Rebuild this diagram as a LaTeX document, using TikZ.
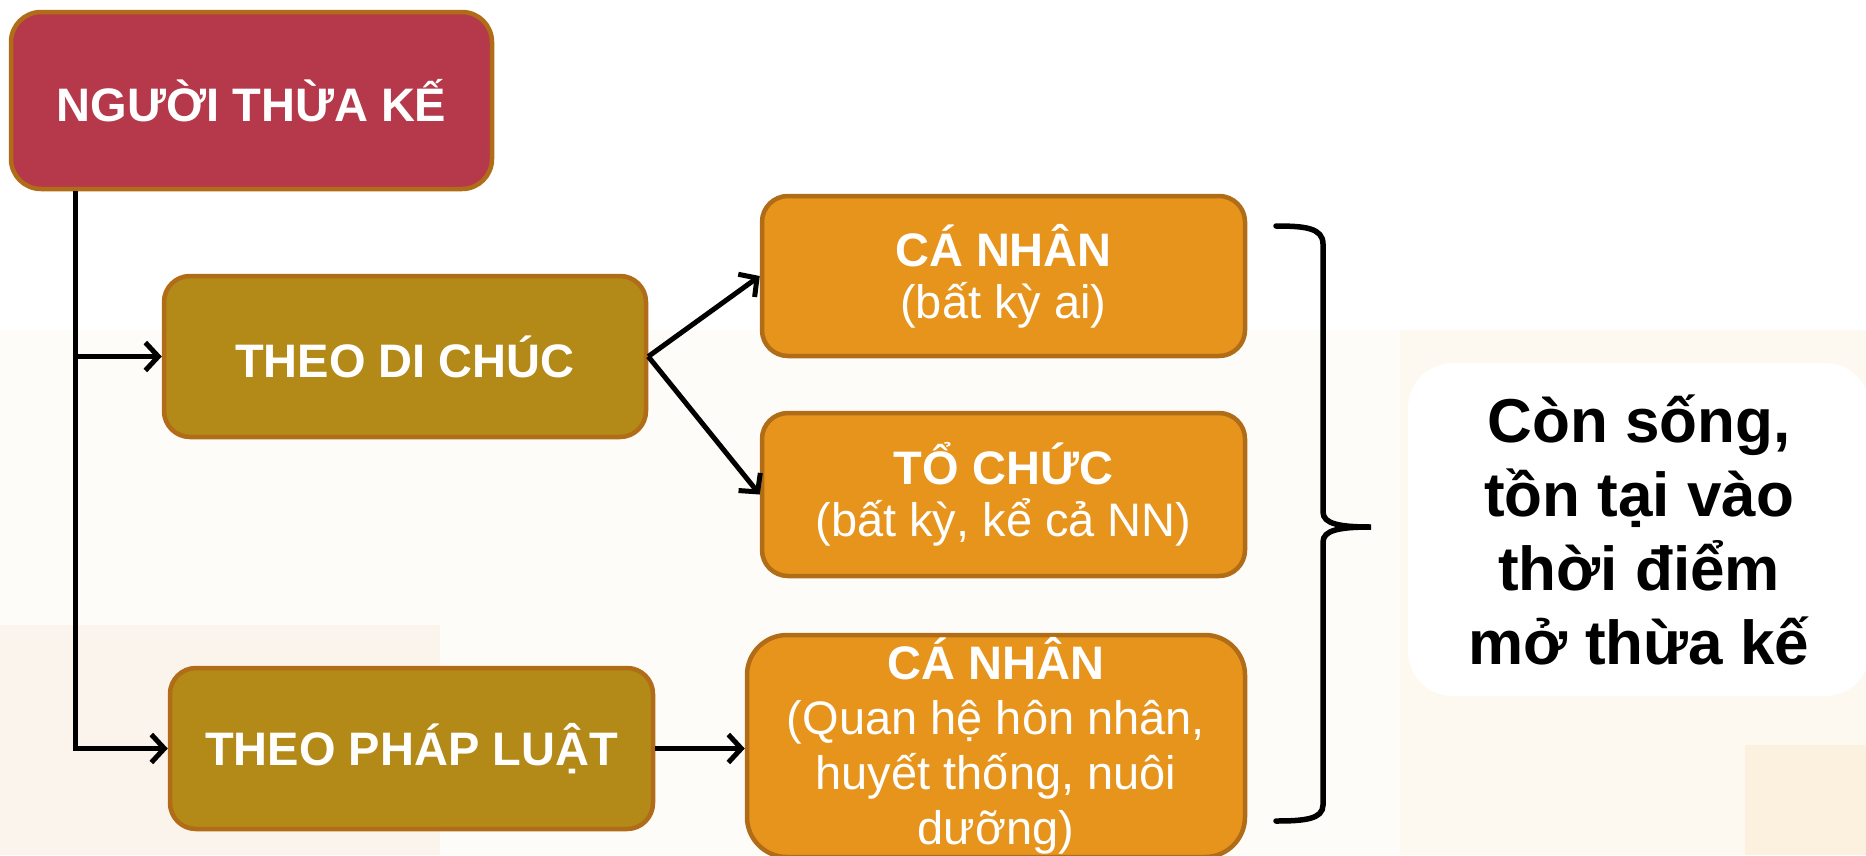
\documentclass[tikz,border=0pt]{standalone}
\usepackage{fontspec}
\setmainfont{Liberation Sans}
\usetikzlibrary{arrows.meta}
\definecolor{crimson}{RGB}{181,57,75}
\definecolor{boxedge}{RGB}{176,108,22}
\definecolor{gold}{RGB}{179,137,24}
\definecolor{amber}{RGB}{230,148,28}
\definecolor{creamA}{RGB}{254,252,249}
\definecolor{creamB}{RGB}{251,244,236}
\definecolor{creamC}{RGB}{253,249,240}
\definecolor{creamD}{RGB}{251,241,222}
\begin{document}
\begin{tikzpicture}[x=1pt,y=-1pt,
  basebox/.style={draw=boxedge, line width=4.5pt, text=white, align=center, inner sep=0pt},
  rootbox/.style={basebox, fill=crimson, rounded corners=30pt, font=\fontsize{47}{52}\selectfont\bfseries},
  branchbox/.style={basebox, fill=gold, rounded corners=26pt, font=\fontsize{47}{52}\selectfont\bfseries},
  leafbox/.style={basebox, fill=amber, rounded corners=26pt, font=\fontsize{47}{52}\selectfont},
  notebox/.style={fill=white, rounded corners=45pt, align=center, inner sep=0pt, font=\fontsize{62}{74}\selectfont\bfseries},
  conn/.style={line width=5pt, black},
  arr/.style={conn, -{Straight Barb[length=13pt,width=28pt]}},
  bracestyle/.style={line width=5.5pt, black, line cap=round}]
\useasboundingbox (0,0) rectangle (1866,855);
% background
\fill[white] (0,0) rectangle (1866,855);
\fill[creamA] (0,330) rectangle (1866,855);
\fill[creamB] (0,625) rectangle (440,855);
\fill[creamC] (1400,330) rectangle (1866,855);
\fill[creamD] (1745,745) rectangle (1866,855);
% nodes
\node[rootbox, minimum width=481pt, minimum height=177pt] (root) at (251.5,100.5) {NGƯỜI THỪA KẾ};
\node[branchbox, minimum width=482pt, minimum height=161pt] (will) at (405,356.5) {THEO DI CHÚC};
\node[branchbox, minimum width=483pt, minimum height=161pt] (law) at (411.5,748.5) {THEO PHÁP LUẬT};
\node[leafbox, minimum width=483pt, minimum height=160pt] (cn1) at (1003.5,276) {\textbf{CÁ NHÂN}\\(bất kỳ ai)};
\node[leafbox, minimum width=483pt, minimum height=163pt] (tc) at (1003.5,494.5) {\textbf{TỔ CHỨC}\\(bất kỳ, kể cả NN)};
\node[leafbox, rounded corners=40pt, minimum width=498pt, minimum height=222pt, font=\fontsize{47}{55}\selectfont] (cn2) at (996,746) {\textbf{CÁ NHÂN}\\(Quan hệ hôn nhân,\\huyết thống, nuôi\\dưỡng)};
\node[notebox, minimum width=462pt, minimum height=333pt] (note) at (1639,529.5) {Còn sống,\\tồn tại vào\\thời điểm\\mở thừa kế};
% connectors
\coordinate (spine) at (75,0);
\draw[arr] (root.south -| spine) |- (law.west);
\draw[arr] (spine |- will.west) -- (will.west);
\draw[arr] (will.east) -- (cn1.west);
\draw[arr] (will.east) -- (tc.west);
\draw[arr] (law.east) -- (law.east -| cn2.west);
% brace
\coordinate (bt) at (1276,226);
\coordinate (bb) at (1276,821);
\coordinate (btip) at (1371,527);
\draw[bracestyle] (bt) .. controls (1305,226) and (1323,228) .. (1323,244)
  -- (1323,512) .. controls (1323,524) and (1340,527) .. (btip)
  .. controls (1340,527) and (1323,530) .. (1323,542)
  -- (1323,805) .. controls (1323,819) and (1305,821) .. (bb);
\end{tikzpicture}
\end{document}
